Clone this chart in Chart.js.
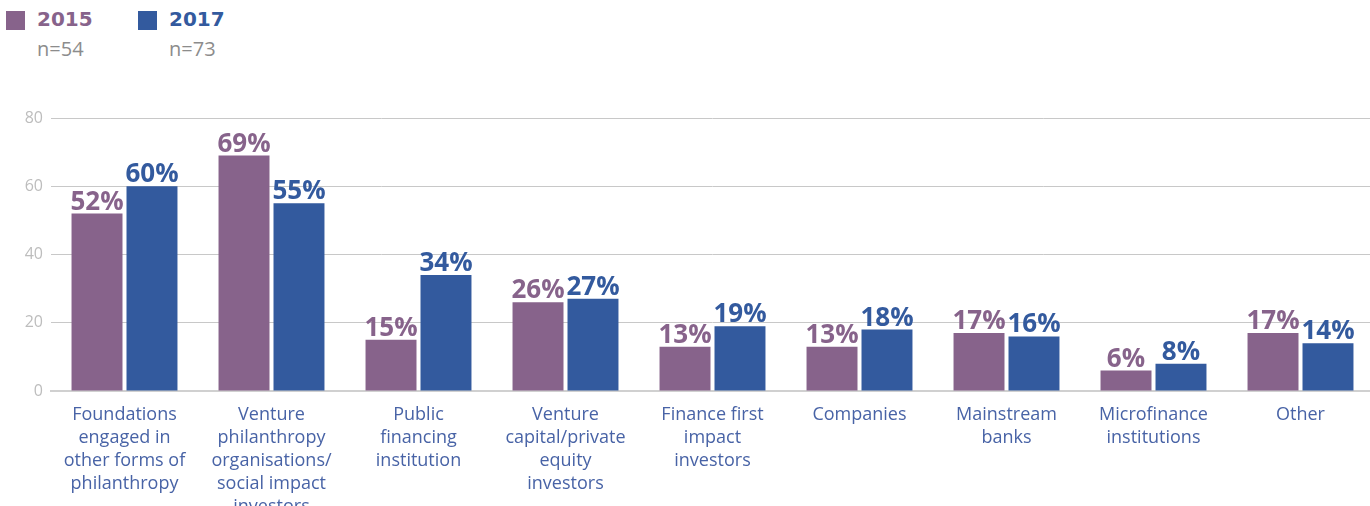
<!DOCTYPE html>
<html>
<head>
<meta charset="utf-8">
<script src="https://cdn.jsdelivr.net/npm/chart.js@4/dist/chart.umd.min.js"></script>
<style>
  html, body { margin: 0; padding: 0; background: #fff; overflow: hidden; width: 1370px; height: 506px; }
  #wrap { position: absolute; left: 0; top: 0; width: 1376px; height: 520px; }
  .leyenda { position: absolute; top: 8px; }
  .caja { position: absolute; left: 0; top: 3px; width: 19px; height: 19px; }
  .anio { position: absolute; left: 31px; top: -1px; font: bold 20px "DejaVu Sans", sans-serif; white-space: nowrap; }
  .n { position: absolute; left: 31px; top: 27px; font: 20px "Open Sans", sans-serif; color: #8c8c8c; white-space: nowrap; }
</style>
</head>
<body>
<div class="leyenda" style="left:6px">
  <div class="caja" style="background:#87638B"></div>
  <div class="anio" style="color:#87638B">2015</div>
  <div class="n">n=54</div>
</div>
<div class="leyenda" style="left:138px">
  <div class="caja" style="background:#335A9E"></div>
  <div class="anio" style="color:#335A9E">2017</div>
  <div class="n">n=73</div>
</div>
<div id="wrap"><canvas id="grafica" width="1376" height="520"></canvas></div>
<script>
// datos
const categorias = [
  ["Foundations", "engaged in", "other forms of", "philanthropy"],
  ["Venture", "philanthropy", "organisations/", "social impact", "investors"],
  ["Public", "financing", "institution"],
  ["Venture", "capital/private", "equity", "investors"],
  ["Finance first", "impact", "investors"],
  ["Companies"],
  ["Mainstream", "banks"],
  ["Microfinance", "institutions"],
  ["Other"]
];
const valores2015 = [52, 69, 15, 26, 13, 13, 17, 6, 17];
const valores2017 = [60, 55, 34, 27, 19, 18, 16, 8, 14];
const ticksY = [0, 20, 40, 60, 80];

const colorMorado = "#87638B";
const colorAzul = "#335A9E";

// etiquetas de porcentaje encima de cada barra
const etiquetasBarras = {
  id: "etiquetasBarras",
  afterDatasetsDraw(chart) {
    const ctx = chart.ctx;
    ctx.save();
    ctx.font = "bold 26px 'Open Sans', sans-serif";
    ctx.textAlign = "center";
    ctx.textBaseline = "alphabetic";
    chart.data.datasets.forEach((ds, i) => {
      const meta = chart.getDatasetMeta(i);
      ctx.fillStyle = ds.backgroundColor;
      meta.data.forEach((bar, j) => {
        ctx.fillText(ds.data[j] + "%", bar.x, bar.y - 4);
      });
    });
    ctx.restore();
  }
};

new Chart(document.getElementById("grafica"), {
  type: "bar",
  data: {
    labels: categorias,
    datasets: [
      { label: "2015", data: valores2015, backgroundColor: colorMorado },
      { label: "2017", data: valores2017, backgroundColor: colorAzul }
    ]
  },
  options: {
    responsive: false,
    animation: false,
    categoryPercentage: 0.748,
    barPercentage: 0.927,
    layout: { padding: { top: 118, right: 2, left: 0, bottom: 0 } },
    plugins: { legend: { display: false }, tooltip: { enabled: false } },
    scales: {
      x: {
        grid: { display: false, drawTicks: false },
        border: { display: true, color: "#d0d0d0", width: 2 },
        ticks: {
          padding: 12,
          color: "#4863A6",
          font: { family: "'Open Sans', sans-serif", size: 18, lineHeight: 1.28 },
          maxRotation: 0,
          autoSkip: false
        },
        afterFit(scale) { scale.height = 129; }
      },
      y: {
        min: 0,
        max: 80,
        afterBuildTicks(scale) { scale.ticks = ticksY.map(v => ({ value: v })); },
        grid: { color: "#c8c8c8", lineWidth: 1, drawTicks: false },
        border: { display: false },
        ticks: {
          padding: 8,
          color: "#bdbdbd",
          font: { family: "'Open Sans', sans-serif", size: 16 }
        },
        afterFit(scale) { scale.width = 51; }
      }
    }
  },
  plugins: [etiquetasBarras]
});
</script>
</body>
</html>
